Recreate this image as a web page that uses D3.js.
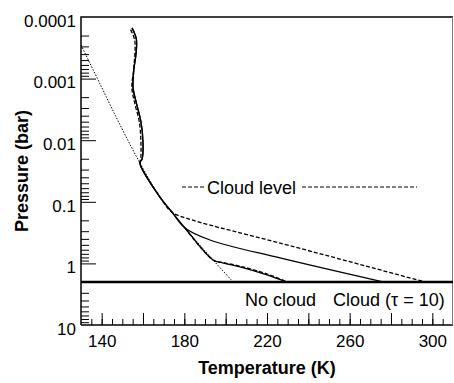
<!DOCTYPE html>
<html>
<head>
<meta charset="utf-8">
<script src="https://cdn.jsdelivr.net/npm/d3@7"></script>
<style>
  body { margin: 0; background: #fff; }
  svg { display: block; font-family: Arial, "Liberation Sans", Helvetica, sans-serif; }
</style>
</head>
<body>
<svg id="chart" width="454" height="383"></svg>
<script>
// profiles: temperature (K) vs pressure (bar)
const upperT = [154.7, 156.8, 156.6, 155.6, 155.2, 156.8, 159.0, 160.0, 159.6, 158.5];
const upperP = [1.5e-4, 2.3e-4, 4e-4, 7e-4, 1.4e-3, 2.5e-3, 5e-3, 0.011, 0.02, 0.0234];
const upperDashT = [154.0, 156.0, 155.6, 154.6, 156.0, 158.2, 159.0, 158.9, 158.5];
const upperDashP = [1.6e-4, 2.4e-4, 6.5e-4, 1.4e-3, 2.5e-3, 5e-3, 0.011, 0.02, 0.0234];
const commonT = [168.2, 174.0, 180.3];
const commonP = [0.084, 0.147, 0.266];

const noCloudT = [193.9, 198.5, 206.9, 220.0, 229.2];
const noCloudP = [0.88, 0.98, 1.14, 1.54, 2.0];
const cloudT = [192.4, 226.3, 276.1];
const cloudP = [0.417, 0.817, 2.0];
const cloudLevelT = [168.2, 174.0, 183.7, 226.3, 296.4];
const cloudLevelP = [0.084, 0.147, 0.197, 0.467, 2.0];
const noCloudLevelT = [180.3, 193.9, 198.8, 207.5, 220.5, 229.8];
const noCloudLevelP = [0.266, 0.88, 0.97, 1.12, 1.50, 2.0];
const dottedT = [130, 139.2, 148.9, 158.5, 168.2, 174.0, 180.3, 193.9, 203.6];
const dottedP = [2.85e-4, 1.22e-3, 5.66e-3, 0.0234, 0.084, 0.147, 0.266, 0.88, 2.0];

const surfaceP = 2;

const xTicks = [140, 180, 220, 260, 300];
const yTicks = [1e-4, 1e-3, 1e-2, 0.1, 1, 10];
const yTickLabels = ["0.0001", "0.001", "0.01", "0.1", "1", "10"];

const svg = d3.select("#chart");
const mLeft = 81, mRight = 453, mTop = 17, mBottom = 325;

const x = d3.scaleLinear().domain([130, 310]).range([mLeft, mRight]);
const y = d3.scaleLog().domain([1e-4, 10]).range([mTop, mBottom]);

const zip = (a, b) => a.map((v, i) => [v, b[i]]);
const line = d3.line().x(d => x(d[0])).y(d => y(d[1])).curve(d3.curveCatmullRom.alpha(0.5));

// x axis: minor every 5 K, major every 20 K
const minorX = d3.range(135, 310, 5);
svg.append("g")
  .attr("transform", `translate(0,${mBottom})`)
  .call(d3.axisBottom(x).tickValues(minorX).tickSizeInner(-6).tickSizeOuter(0).tickFormat(""))
  .call(g => g.select(".domain").remove());
svg.append("g")
  .attr("transform", `translate(0,${mBottom})`)
  .call(d3.axisBottom(x).tickValues(d3.range(140, 310, 20)).tickSizeInner(-12).tickSizeOuter(0).tickFormat(""))
  .call(g => g.select(".domain").remove());
svg.append("g")
  .attr("transform", `translate(0,${mBottom})`)
  .call(d3.axisBottom(x).tickValues(xTicks).tickSize(0).tickPadding(10).tickFormat(d3.format("d")))
  .call(g => g.select(".domain").remove())
  .selectAll("text").attr("font-size", 17).attr("fill", "#000");

// y axis: log minor ticks + decades
const minorY = [];
for (let e = -4; e < 1; e++) for (let m = 2; m <= 9; m++) minorY.push(m * Math.pow(10, e));
svg.append("g")
  .attr("transform", `translate(${mLeft},0)`)
  .call(d3.axisLeft(y).tickValues(minorY).tickSizeInner(-8).tickSizeOuter(0).tickFormat(""))
  .call(g => g.select(".domain").remove());
svg.append("g")
  .attr("transform", `translate(${mLeft},0)`)
  .call(d3.axisLeft(y).tickValues(yTicks.slice(1, 5)).tickSizeInner(-15).tickSizeOuter(0).tickFormat(""))
  .call(g => g.select(".domain").remove());
svg.append("g")
  .attr("transform", `translate(${mLeft},0)`)
  .call(d3.axisLeft(y).tickValues(yTicks).tickSize(0).tickPadding(5).tickFormat((d, i) => yTickLabels[i]))
  .call(g => g.select(".domain").remove())
  .selectAll("text").attr("font-size", 17).attr("fill", "#000").attr("dy", "0.55em");

svg.selectAll(".tick line").attr("stroke", "#000").attr("stroke-width", 1);

// frame
svg.append("path")
  .attr("d", `M${mLeft},${mBottom}V${mTop}H${mRight}`)
  .attr("fill", "none").attr("stroke", "#000").attr("stroke-width", 1.5);
svg.append("line")
  .attr("x1", mLeft).attr("x2", mRight).attr("y1", mBottom).attr("y2", mBottom)
  .attr("stroke", "#000").attr("stroke-width", 1.5);
svg.append("line")
  .attr("x1", mRight - 0.5).attr("x2", mRight - 0.5).attr("y1", mTop).attr("y2", mBottom)
  .attr("stroke", "#777").attr("stroke-width", 1);

// surface level
svg.append("line")
  .attr("x1", mLeft).attr("x2", mRight).attr("y1", y(surfaceP)).attr("y2", y(surfaceP))
  .attr("stroke", "#000").attr("stroke-width", 2.5);

// profiles
const upper = zip(upperT, upperP), common = zip(commonT, commonP);
const series = [
  { pts: zip(dottedT, dottedP), dash: "1.5,1.5", w: 1 },
  { pts: upper.concat(common, zip(noCloudT, noCloudP)), dash: null, w: 1.3 },
  { pts: upper.concat(common, zip(cloudT, cloudP)), dash: null, w: 1.3 },
  { pts: zip(upperDashT, upperDashP).concat(zip(cloudLevelT, cloudLevelP)), dash: "4,2", w: 1.3 },
  { pts: zip(noCloudLevelT, noCloudLevelP), dash: "4,2", w: 1.3 }
];
svg.selectAll("path.profile")
  .data(series)
  .enter().append("path")
  .attr("class", "profile")
  .attr("d", d => line(d.pts))
  .attr("fill", "none")
  .attr("stroke", "#000")
  .attr("stroke-width", d => d.w)
  .attr("stroke-dasharray", d => d.dash);

// annotations
const leg = svg.append("g").attr("font-size", 18);
leg.append("line").attr("x1", 182).attr("x2", 205).attr("y1", 187).attr("y2", 187)
  .attr("stroke", "#000").attr("stroke-dasharray", "4,2");
leg.append("text").attr("x", 207).attr("y", 194).text("Cloud level");
leg.append("line").attr("x1", 302).attr("x2", 417).attr("y1", 187).attr("y2", 187)
  .attr("stroke", "#000").attr("stroke-dasharray", "4,2");

svg.append("text").attr("x", 245).attr("y", 306).attr("font-size", 18).text("No cloud");
svg.append("text").attr("x", 333).attr("y", 306).attr("font-size", 18).text("Cloud (\u03c4 = 10)");

// axis titles
svg.append("text")
  .attr("x", (mLeft + mRight) / 2).attr("y", 374)
  .attr("text-anchor", "middle").attr("font-size", 18).attr("font-weight", "bold")
  .text("Temperature (K)");
svg.append("text")
  .attr("transform", `translate(28,${(mTop + mBottom) / 2}) rotate(-90)`)
  .attr("text-anchor", "middle").attr("font-size", 18).attr("font-weight", "bold")
  .text("Pressure (bar)");
</script>
</body>
</html>
